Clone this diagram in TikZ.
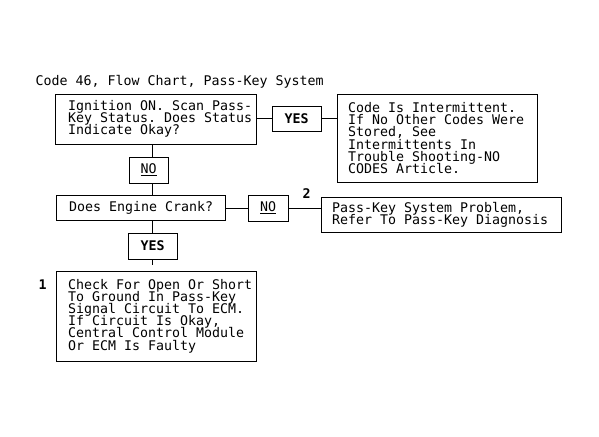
\documentclass[tikz,border=0pt]{standalone}
\usepackage{fontspec}
\setmonofont{DejaVu Sans Mono}
\newcommand\mytightlines{\lineskiplimit=-20pt\relax\lineskip=0pt\relax}
\begin{document}
\begin{tikzpicture}[x=1pt,y=-1pt,
  font=\ttfamily\fontsize{13.29}{12.2}\selectfont\mytightlines,
  every path/.style={line width=1pt},
  box/.style={draw, rectangle, inner sep=0pt, line width=1pt},
  txt/.style={anchor=west, align=left, inner sep=0pt},
  tag/.style={inner sep=0pt, font=\ttfamily\bfseries\fontsize{13.29}{12.2}\selectfont},
  num/.style={anchor=base west, inner sep=0pt, font=\ttfamily\bfseries\fontsize{13.29}{12.2}\selectfont}]
\useasboundingbox (0,0) rectangle (599,436);
\node[anchor=base west, inner sep=0pt] (title) at (35,85) {Code 46, Flow Chart, Pass-Key System};
% boxes
\node[box, minimum width=201, minimum height=50] (b1) at (155.5,119) {};
\node[txt] (t1) at ([xshift=13pt]b1.west) {Ignition ON. Scan Pass-\\Key Status. Does Status\\Indicate Okay?};
\node[box, minimum width=49, minimum height=25] (yes1) at (296.5,118.5) {};
\node[tag] (yes1t) at (yes1.center) {YES};
\node[box, minimum width=200, minimum height=88] (bint) at (437,138) {};
\node[txt] (tint) at ([xshift=11pt]bint.west) {Code Is Intermittent.\\If No Other Codes Were\\Stored, See\\Intermittents In\\Trouble Shooting-NO\\CODES Article.};
\node[box, minimum width=39, minimum height=26] (no1) at (148.5,170) {};
\node[inner sep=0pt] (no1t) at (no1.center) {\underline{NO}};
\node[box, minimum width=169, minimum height=25] (b2) at (140.5,207.5) {};
\node[txt] (t2) at ([xshift=13pt]b2.west) {Does Engine Crank?};
\node[box, minimum width=40, minimum height=26] (no2) at (268,208) {};
\node[inner sep=0pt] (no2t) at (no2.center) {\underline{NO}};
\node[box, minimum width=240, minimum height=35] (bpass) at (441,214.5) {};
\node[txt] (tpass) at ([xshift=11pt]bpass.west) {Pass-Key System Problem,\\Refer To Pass-Key Diagnosis};
\node[box, minimum width=49, minimum height=26] (yes2) at (152.5,246) {};
\node[tag] (yes2t) at (yes2.center) {YES};
\node[box, minimum width=200, minimum height=90] (b3) at (156,316) {};
\node[txt] (t3) at ([xshift=12pt]b3.west) {Check For Open Or Short\\To Ground In Pass-Key\\Signal Circuit To ECM.\\If Circuit Is Okay,\\Central Control Module\\Or ECM Is Faulty};
\node[num] (n2) at (302,198) {2};
\node[num] (n1) at (38,289) {1};
% connectors
\coordinate (sp) at (152,0);
\coordinate (endc) at (152,265);
\draw (yes1.west -| b1.east) -- (yes1.west);
\draw (yes1.east) -- (yes1.east -| bint.west);
\draw (sp |- b1.south) -- (sp |- no1.north);
\draw (sp |- no1.south) -- (sp |- b2.north);
\draw (sp |- b2.south) -- (sp |- yes2.north);
\draw (sp |- yes2.south) -- (endc);
\draw (no2.west -| b2.east) -- (no2.west);
\draw (no2.east) -- (no2.east -| bpass.west);
\end{tikzpicture}
\end{document}
